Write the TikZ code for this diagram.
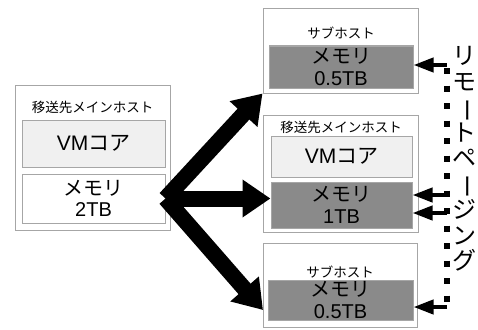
\documentclass[tikz,border=0pt]{standalone}
\usepackage{fontspec}
\usepackage{graphicx}
\setmainfont{Liberation Sans}
\newfontfamily\jp{Noto Sans CJK JP}
\usetikzlibrary{arrows.meta}

\definecolor{framegray}{RGB}{166,166,166}
\definecolor{coregray}{RGB}{240,240,240}
\definecolor{memgray}{RGB}{138,138,138}

\begin{document}
\begin{tikzpicture}[x=1pt,y=-1pt,
	host/.style={draw=framegray, fill=white, line width=1pt, inner sep=0pt},
	core/.style={draw=framegray, fill=coregray, line width=1pt, inner sep=0pt, font=\fontsize{21}{22}\selectfont},
	mem/.style={draw=framegray, fill=memgray, line width=1pt, inner sep=0pt, align=center, font=\fontsize{20}{21.5}\selectfont},
	title/.style={inner sep=0pt, font=\jp\fontsize{13.5}{15}\selectfont},
	bigarrow/.style={line width=16pt, -{Triangle[length=28pt,width=36pt]}},
	pagearrow/.style={line width=4pt, -{Triangle[length=20pt,width=14pt]}}]
	
	\useasboundingbox (0,0) rectangle (478,329);
	
	% destination main host
	\node[host, minimum width=155pt, minimum height=145pt] (mainhost) at (92.5,157.5) {};
	\node[title] (maintitle) at (92.5,107) {移送先メインホスト};
	\node[core, minimum width=143pt, minimum height=47pt] (maincore) at (93.5,143.5) {VM{\jp コア}};
	\node[mem, fill=white, minimum width=143pt, minimum height=49pt] (mainmem) at (93.5,198.5) {{\jp メモリ}\\2TB};
	
	% sub host, top
	\node[host, minimum width=155pt, minimum height=84pt] (subA) at (340.5,51) {};
	\node[title] (subAtitle) at (341,33) {サブホスト};
	\node[mem, minimum width=144pt, minimum height=42pt] (memA) at (341,67) {{\jp メモリ}\\0.5TB};
	
	% main host, middle
	\node[host, minimum width=155pt, minimum height=117pt] (midhost) at (340.5,173.5) {};
	\node[title] (midtitle) at (341,127) {移送先メインホスト};
	\node[core, minimum width=141pt, minimum height=41pt] (midcore) at (341.5,156.5) {VM{\jp コア}};
	\node[mem, minimum width=141pt, minimum height=46pt] (midmem) at (341.5,205) {{\jp メモリ}\\1TB};
	
	% sub host, bottom
	\node[host, minimum width=154pt, minimum height=84pt] (subB) at (340,285) {};
	\node[title] (subBtitle) at (340,272) {サブホスト};
	\node[mem, minimum width=145pt, minimum height=40pt] (memB) at (340.5,300) {{\jp メモリ}\\0.5TB};
	
	% split of the memory
	\coordinate (tipB) at (263,310);
	\draw[bigarrow] (mainmem.east) -- (subA.south west);
	\draw[bigarrow] (mainmem.east) -- (mainmem.east -| midmem.west);
	\draw[bigarrow] (mainmem.east) -- (tipB);
	
	% remote paging
	\coordinate (dtop) at (447,68);
	\coordinate (dbot) at (447,312);
	\draw[line width=6pt, dash pattern=on 6pt off 11.5pt] (dtop) -- (dbot);
	\draw[pagearrow] ([yshift=2pt]memA.east -| dtop) -- ([yshift=2pt]memA.east);
	\draw[pagearrow] ([yshift=10pt]midmem.east -| dtop) -- ([yshift=10pt]midmem.east);
	\draw[pagearrow] ([yshift=-8pt]midmem.east -| dtop) -- ([yshift=-8pt]midmem.east);
	\draw[pagearrow] ([yshift=-7pt]memB.east -| dtop) -- ([yshift=-7pt]memB.east);
	
	\node[align=center, inner sep=0pt, font=\jp\fontsize{24}{25.5}\selectfont] (paging) at (464,159)
	{リ\\モ\\\rotatebox[origin=c]{-90}{ー}\\ト\\ペ\\\rotatebox[origin=c]{-90}{ー}\\ジ\\ン\\グ};
\end{tikzpicture}
\end{document}
